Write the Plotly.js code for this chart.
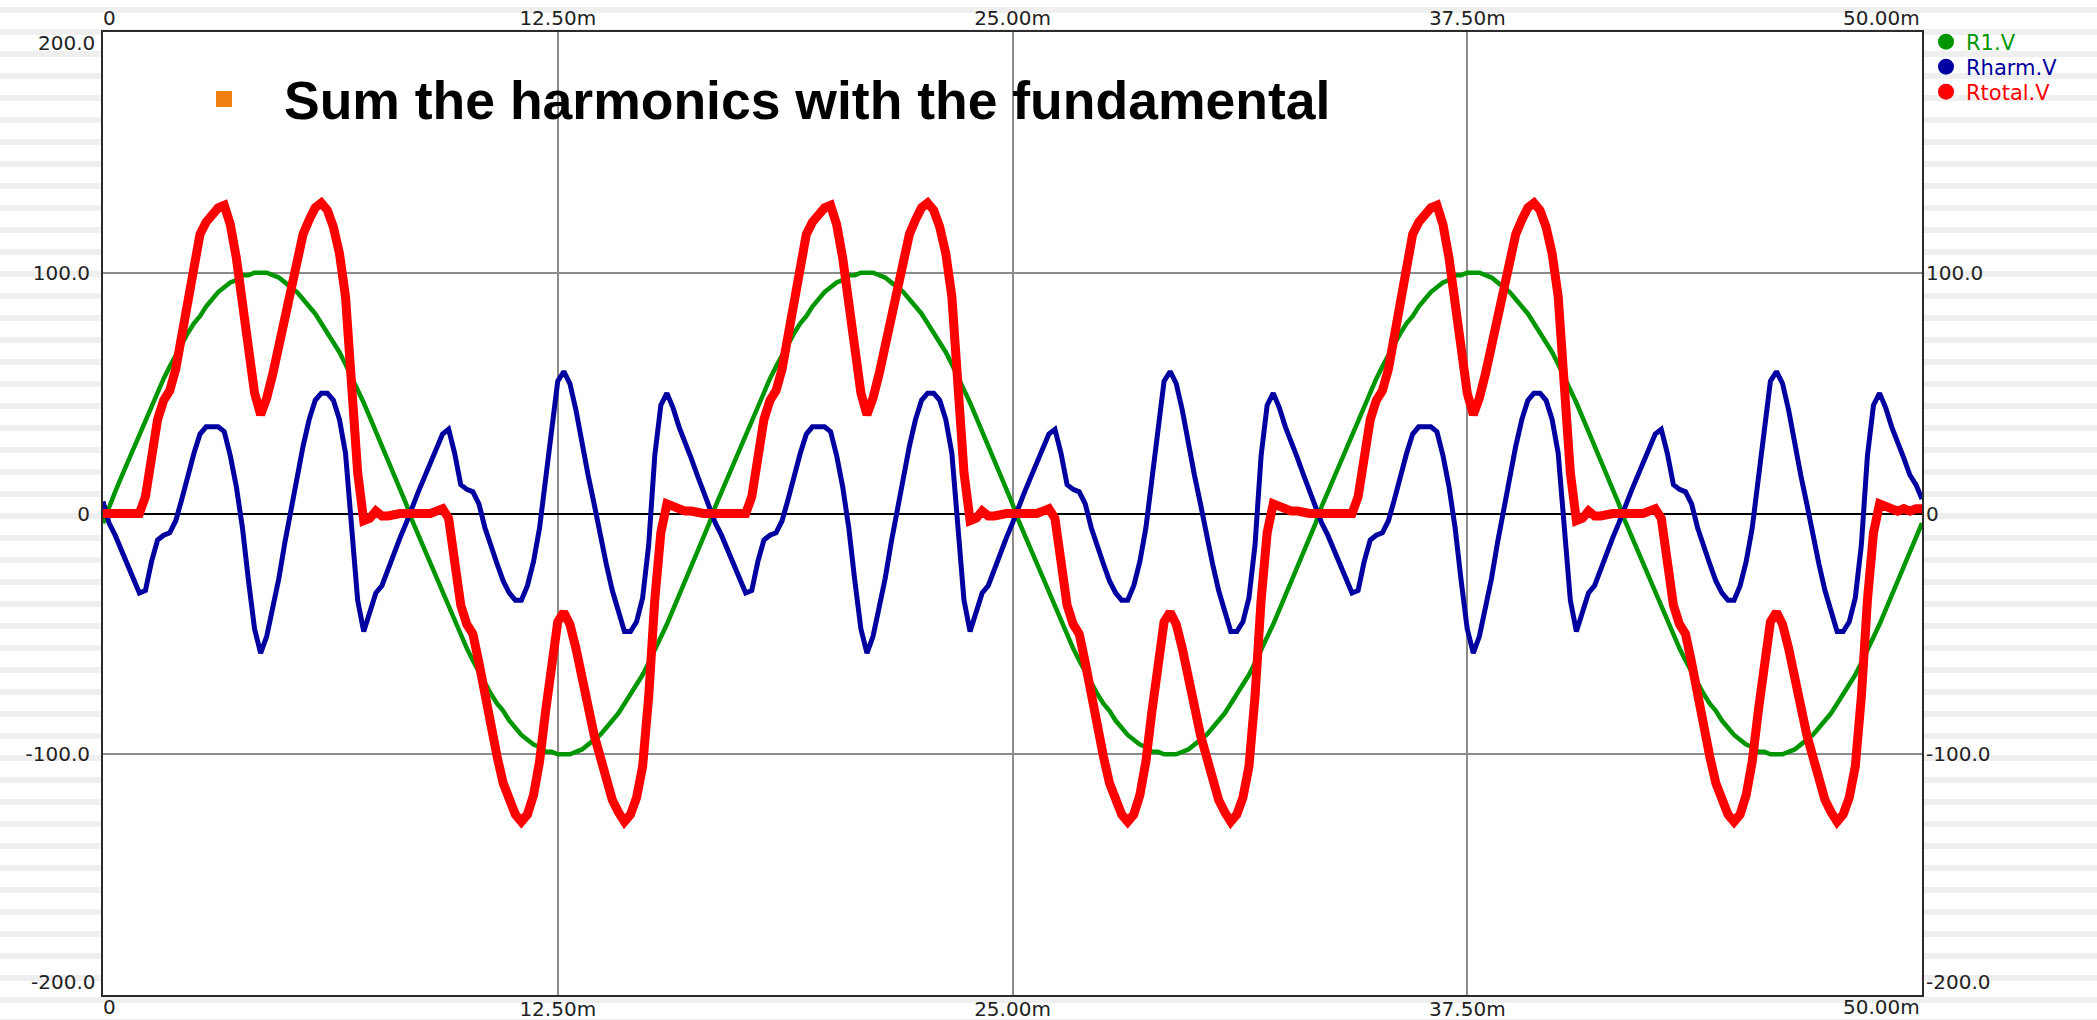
<!DOCTYPE html>
<html>
<head>
<meta charset="utf-8">
<script src="https://cdn.plot.ly/plotly-3.0.1.min.js"></script>
<style>
  html, body { margin: 0; padding: 0; width: 2097px; height: 1020px; overflow: hidden;
    background: repeating-linear-gradient(180deg, #ffffff 0px, #ffffff 7px, #efefef 7px, #efefef 13px, #ffffff 13px, #ffffff 22px); }
  #chart { width: 2097px; height: 1020px; }
</style>
</head>
<body>
<div id="chart"></div>
<script>
// Sampling: one sample every 1/6 ms, from 0 to 50 ms (301 samples)
const timeStartMs = 0;
const timeStepMs = 0.16666667;

const seriesNames = ["R1.V", "Rharm.V", "Rtotal.V"];
const seriesColors = ["#009600", "#0000a0", "#ff0000"];

const xTickValues = [12.5, 25, 37.5];
const xTickLabels = ["12.50m", "25.00m", "37.50m"];
const xEndLabels = ["0", "50.00m"];
const yTickValues = [100, 0, -100];
const yTickLabels = ["100.0", "0", "-100.0"];
const yEndLabels = ["200.0", "-200.0"];
const titleText = "Sum the harmonics with the fundamental";

// R1.V (fundamental), volts
const r1V = [
  -4,3,9,15,21,27,33,39,45,50,56,61,66,70,75,79,82,86,89,92,94,96,97,99,99,100,100,100,99,98,96,94,92,89,86,83,79,75,71,67,62,57,51,46,40,34,29,22,16,10,
  4,-3,-9,-15,-21,-27,-33,-39,-45,-50,-56,-61,-66,-70,-75,-79,-82,-86,-89,-92,-94,-96,-97,-99,-99,-100,-100,-100,-99,-98,-96,-94,-92,-89,-86,-83,-79,-75,-71,-67,-62,-57,-51,-46,-40,-34,-29,-22,-16,-10,
  -4,3,9,15,21,27,33,39,45,50,56,61,66,70,75,79,82,86,89,92,94,96,97,99,99,100,100,100,99,98,96,94,92,89,86,83,79,75,71,67,62,57,51,46,40,34,29,22,16,10,
  4,-3,-9,-15,-21,-27,-33,-39,-45,-50,-56,-61,-66,-70,-75,-79,-82,-86,-89,-92,-94,-96,-97,-99,-99,-100,-100,-100,-99,-98,-96,-94,-92,-89,-86,-83,-79,-75,-71,-67,-62,-57,-51,-46,-40,-34,-29,-22,-16,-10,
  -4,3,9,15,21,27,33,39,45,50,56,61,66,70,75,79,82,86,89,92,94,96,97,99,99,100,100,100,99,98,96,94,92,89,86,83,79,75,71,67,62,57,51,46,40,34,29,22,16,10,
  4,-3,-9,-15,-21,-27,-33,-39,-45,-50,-56,-61,-66,-70,-75,-79,-82,-86,-89,-92,-94,-96,-97,-99,-99,-100,-100,-100,-99,-98,-96,-94,-92,-89,-86,-83,-79,-75,-71,-67,-62,-57,-51,-46,-40,-34,-29,-22,-16,-10,
  -4
];

// Rharm.V (harmonics), volts
const rharmV = [
  5,-4,-9,-15,-21,-27,-33,-32,-20,-11,-9,-8,-3,6,16,25,33,36,36,36,34,24,11,-6,-28,-48,-58,-51,-39,-27,-12,2,16,28,39,47,50,50,47,39,25,-5,-36,-49,-41,-33,-30,-23,-16,-10,
  -4,3,9,15,21,27,33,35,25,12,10,9,4,-6,-14,-21,-28,-33,-36,-36,-30,-20,-6,14,38,55,59,54,43,29,16,4,-9,-21,-32,-41,-49,-49,-45,-35,-13,24,45,50,44,36,30,23,16,9,
  3,-4,-9,-15,-21,-27,-33,-32,-20,-11,-9,-8,-3,6,16,25,33,36,36,36,34,24,11,-6,-28,-48,-58,-51,-39,-27,-12,2,16,28,39,47,50,50,47,39,25,-5,-36,-49,-41,-33,-30,-23,-16,-10,
  -4,3,9,15,21,27,33,35,25,12,10,9,4,-6,-14,-21,-28,-33,-36,-36,-30,-20,-6,14,38,55,59,54,43,29,16,4,-9,-21,-32,-41,-49,-49,-45,-35,-13,24,45,50,44,36,30,23,16,9,
  3,-4,-9,-15,-21,-27,-33,-32,-20,-11,-9,-8,-3,6,16,25,33,36,36,36,34,24,11,-6,-28,-48,-58,-51,-39,-27,-12,2,16,28,39,47,50,50,47,39,25,-5,-36,-49,-41,-33,-30,-23,-16,-10,
  -4,3,9,15,21,27,33,35,25,12,10,9,4,-6,-14,-21,-28,-33,-36,-36,-30,-20,-6,14,38,55,59,54,43,29,16,4,-9,-21,-32,-41,-49,-49,-45,-35,-13,24,45,50,44,36,30,23,16,12,
  6
];

// Rtotal.V (fundamental + harmonics), volts
const rtotalV = [
  0,0,0,0,0,0,0,7,25,39,47,51,60,75,91,106,116,121,124,127,128,120,106,89,70,50,41,48,58,69,82,95,106,116,122,127,129,126,119,108,90,56,17,-3,-2,1,-1,-1,0,0,
  0,0,0,0,0,1,2,-2,-20,-38,-46,-50,-62,-76,-89,-101,-112,-120,-125,-128,-125,-117,-103,-82,-61,-45,-41,-46,-56,-69,-80,-92,-101,-111,-119,-124,-128,-125,-118,-105,-76,-36,-8,4,3,1,1,1,0,0,
  0,0,0,0,0,0,0,7,25,39,47,51,60,75,91,106,116,121,124,127,128,120,106,89,70,50,41,48,58,69,82,95,106,116,122,127,129,126,119,108,90,56,17,-3,-2,1,-1,-1,0,0,
  0,0,0,0,0,1,2,-2,-20,-38,-46,-50,-62,-76,-89,-101,-112,-120,-125,-128,-125,-117,-103,-82,-61,-45,-41,-46,-56,-69,-80,-92,-101,-111,-119,-124,-128,-125,-118,-105,-76,-36,-8,4,3,1,1,1,0,0,
  0,0,0,0,0,0,0,7,25,39,47,51,60,75,91,106,116,121,124,127,128,120,106,89,70,50,41,48,58,69,82,95,106,116,122,127,129,126,119,108,90,56,17,-3,-2,1,-1,-1,0,0,
  0,0,0,0,0,1,2,-2,-20,-38,-46,-50,-62,-76,-89,-101,-112,-120,-125,-128,-125,-117,-103,-82,-61,-45,-41,-46,-56,-69,-80,-92,-101,-111,-119,-124,-128,-125,-118,-105,-76,-36,-8,4,3,1,1,2,1,2,
  2
];

const seriesValues = [r1V, rharmV, rtotalV];
const lineWidths = [4.5, 5, 9];

const tickFont = { family: "DejaVu Sans", size: 20, color: "#222222" };

const W = 2097, H = 1020, ML = 103, MR = 175, MT = 32, MB = 25;
const PW = W - ML - MR, PH = H - MT - MB;
const px = (v) => (v - ML) / PW;      // pixel -> paper x
const py = (v) => (H - MB - v) / PH;  // pixel -> paper y

const legendIds = ["legend", "legend2", "legend3"];
const legendRowsPx = [42, 67, 92];

const traces = [];
seriesValues.forEach((vals, i) => {
  traces.push({
    type: "scatter", mode: "lines", name: seriesNames[i],
    x0: timeStartMs, dx: timeStepMs, y: vals,
    line: { color: seriesColors[i], width: lineWidths[i] },
    legendgroup: seriesNames[i], showlegend: false,
    hovertemplate: "%{x:.2f} ms, %{y} V<extra>" + seriesNames[i] + "</extra>"
  });
});
// legend entries (round markers, coloured text), one legend box per row
seriesNames.forEach((nm, i) => {
  traces.push({
    type: "scatter", mode: "markers", x: [null], y: [null],
    name: '<span style="color:' + seriesColors[i] + '">' + nm + '</span>',
    legendgroup: nm, showlegend: true, legend: legendIds[i],
    marker: { color: seriesColors[i], size: 16, symbol: "circle" }
  });
});
// carrier for mirrored top / right axes
traces.push({ type: "scatter", mode: "markers", x: [null], y: [null], xaxis: "x2", yaxis: "y2", showlegend: false, hoverinfo: "skip" });

const annotations = [
  { xref: "x", x: 0, yref: "paper", y: py(18), text: xEndLabels[0], xanchor: "left", yanchor: "middle", showarrow: false, font: tickFont, xshift: -2 },
  { xref: "x", x: 50, yref: "paper", y: py(18), text: xEndLabels[1], xanchor: "right", yanchor: "middle", showarrow: false, font: tickFont },
  { xref: "x", x: 0, yref: "paper", y: py(1007), text: xEndLabels[0], xanchor: "left", yanchor: "middle", showarrow: false, font: tickFont, xshift: -2 },
  { xref: "x", x: 50, yref: "paper", y: py(1007), text: xEndLabels[1], xanchor: "right", yanchor: "middle", showarrow: false, font: tickFont },
  { xref: "paper", x: 0, yref: "paper", y: py(43), text: yEndLabels[0], xanchor: "right", yanchor: "middle", showarrow: false, font: tickFont, xshift: -6 },
  { xref: "paper", x: 0, yref: "paper", y: py(982), text: yEndLabels[1], xanchor: "right", yanchor: "middle", showarrow: false, font: tickFont, xshift: -6 },
  { xref: "paper", x: 1, yref: "paper", y: py(982), text: yEndLabels[1], xanchor: "left", yanchor: "middle", showarrow: false, font: tickFont, xshift: 2 }
];

const layout = {
  width: W, height: H,
  margin: { l: ML, r: MR, t: MT, b: MB, pad: 0 },
  paper_bgcolor: "rgba(0,0,0,0)",
  plot_bgcolor: "#ffffff",
  font: { family: "DejaVu Sans", color: "#222222" },
  title: {
    text: titleText, xref: "container", yref: "container",
    x: 284 / W, xanchor: "left", y: 1 - 100 / H, yanchor: "middle",
    font: { family: "Liberation Sans", size: 53.5, weight: 700, color: "#000000" }
  },
  showlegend: true,
  xaxis: {
    range: [0, 50], tickvals: xTickValues, ticktext: xTickLabels, ticks: "",
    showgrid: true, gridcolor: "#8c8c8c", gridwidth: 2, zeroline: false,
    showline: true, mirror: true, linecolor: "#2b2b2b", linewidth: 2,
    tickfont: tickFont, ticklabelstandoff: -5, fixedrange: true
  },
  xaxis2: {
    overlaying: "x", side: "top", range: [0, 50], tickvals: xTickValues, ticktext: xTickLabels,
    ticks: "", showgrid: false, zeroline: false, showline: false, tickfont: tickFont, ticklabelstandoff: 2, fixedrange: true
  },
  yaxis: {
    range: [-200, 200], tickvals: yTickValues, ticktext: yTickLabels, ticks: "",
    showgrid: true, gridcolor: "#8c8c8c", gridwidth: 2,
    zeroline: true, zerolinecolor: "#000000", zerolinewidth: 2,
    showline: true, mirror: true, linecolor: "#2b2b2b", linewidth: 2,
    tickfont: tickFont, ticklabelstandoff: 7, fixedrange: true
  },
  yaxis2: {
    overlaying: "y", side: "right", range: [-200, 200], tickvals: yTickValues, ticktext: yTickLabels,
    ticks: "", showgrid: false, zeroline: false, showline: false, tickfont: tickFont, ticklabelstandoff: 3, fixedrange: true
  },
  shapes: [
    { type: "rect", xref: "paper", yref: "paper", x0: px(216), x1: px(232), y0: py(107), y1: py(91),
      fillcolor: "#f08012", line: { width: 0 }, layer: "above" }
  ],
  annotations: annotations
};

legendIds.forEach((id, i) => {
  layout[id] = {
    x: px(1926), xanchor: "left", y: py(legendRowsPx[i]), yanchor: "middle",
    bgcolor: "rgba(0,0,0,0)", borderwidth: 0, itemwidth: 30,
    font: { family: "DejaVu Sans", size: 21 }
  };
});

Plotly.newPlot("chart", traces, layout, { displayModeBar: false, responsive: false });
</script>
</body>
</html>
